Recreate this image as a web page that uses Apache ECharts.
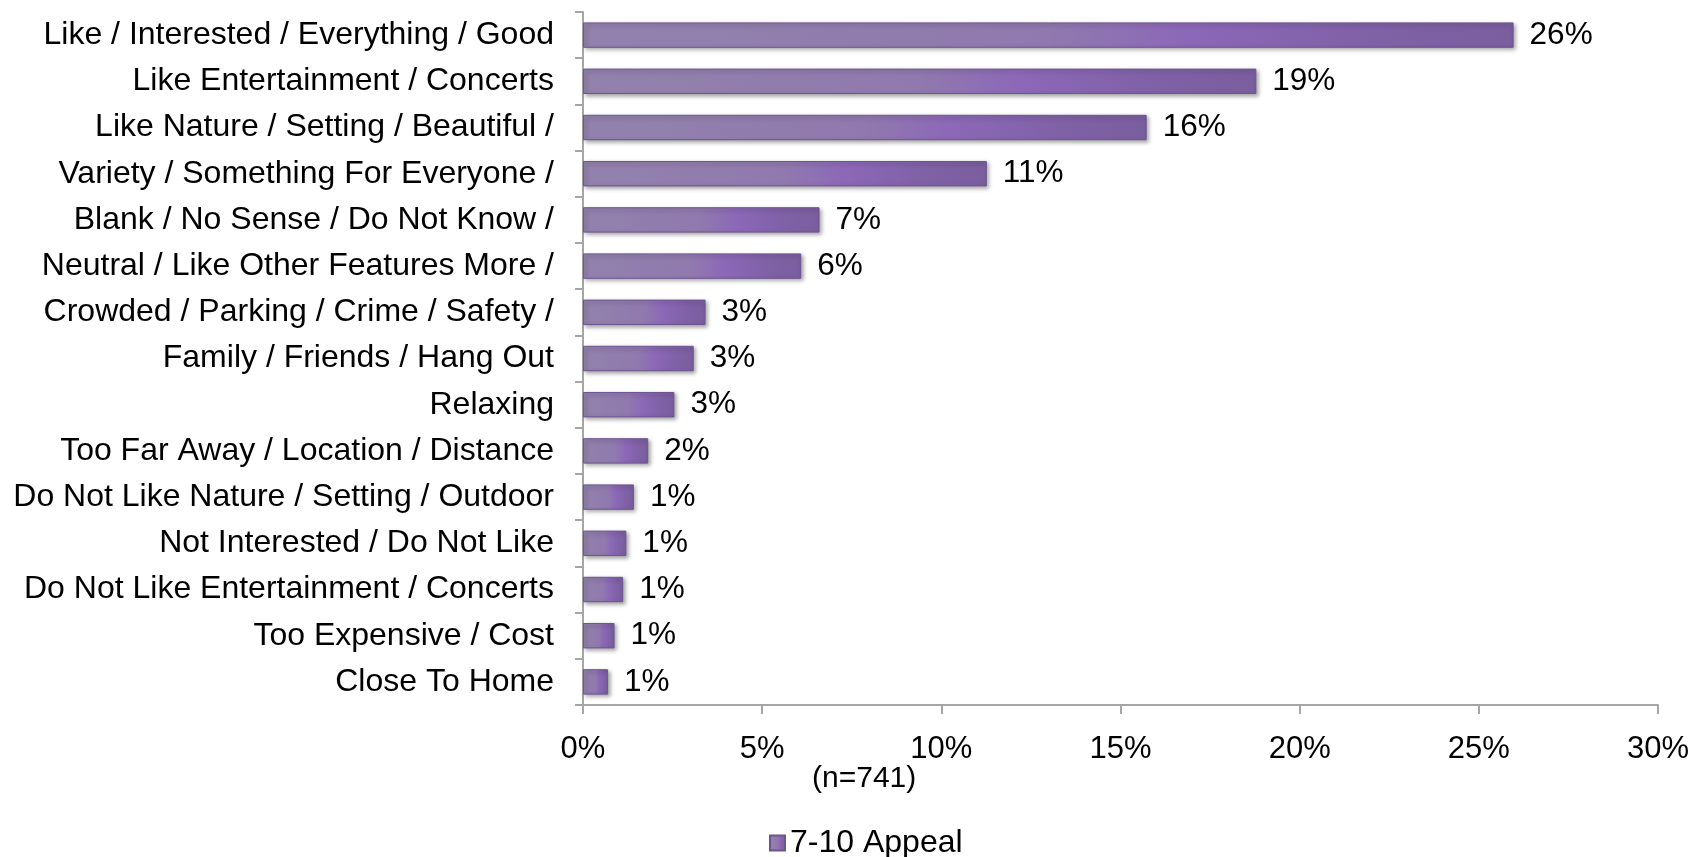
<!DOCTYPE html>
<html>
<head>
<meta charset="utf-8">
<script src="https://cdn.jsdelivr.net/npm/echarts@6/dist/echarts.min.js"></script>
<style>
html,body{margin:0;padding:0;background:#fff;}
#chart{width:1702px;height:857px;}
</style>
</head>
<body>
<div id="chart"></div>
<script>
const categories = [
  'Like / Interested / Everything / Good',
  'Like Entertainment / Concerts',
  'Like Nature / Setting / Beautiful /',
  'Variety / Something For Everyone /',
  'Blank / No Sense / Do Not Know /',
  'Neutral / Like Other Features More /',
  'Crowded / Parking / Crime / Safety /',
  'Family / Friends / Hang Out',
  'Relaxing',
  'Too Far Away / Location / Distance',
  'Do Not Like Nature / Setting / Outdoor',
  'Not Interested / Do Not Like',
  'Do Not Like Entertainment / Concerts',
  'Too Expensive / Cost',
  'Close To Home'
];
const appeal = [25.97, 18.79, 15.73, 11.27, 6.6, 6.09, 3.42, 3.09, 2.55, 1.82, 1.42, 1.21, 1.12, 0.88, 0.70];
const seriesName = '7-10 Appeal';
const xTicks = [0, 5, 10, 15, 20, 25, 30];
const note = '(n=741)';

const font = '"Liberation Sans", Arial, sans-serif';
const barGrad = new echarts.graphic.LinearGradient(0, 0, 1, 0, [
  {offset: 0, color: '#9282ac'},
  {offset: 0.5, color: '#9079ae'},
  {offset: 0.65, color: '#8c68b8'},
  {offset: 0.85, color: '#7f61a6'},
  {offset: 1, color: '#7a5e9e'}
]);

const chart = echarts.init(document.getElementById('chart'));
chart.setOption({
  animation: false,
  backgroundColor: '#ffffff',
  grid: {left: 583, right: 44, top: 12, bottom: 152, containLabel: false},
  xAxis: {
    type: 'value',
    min: xTicks[0],
    max: xTicks[xTicks.length - 1],
    interval: 5,
    splitLine: {show: false},
    axisLine: {show: true, lineStyle: {color: '#a6a6a6', width: 2}},
    axisTick: {show: true, length: 9, lineStyle: {color: '#a6a6a6', width: 2}},
    axisLabel: {
      margin: 29,
      color: '#000',
      fontFamily: font,
      fontSize: 31,
      formatter: v => v + '%'
    }
  },
  yAxis: {
    type: 'category',
    inverse: true,
    data: categories,
    axisLine: {show: true, lineStyle: {color: '#a6a6a6', width: 2}},
    axisTick: {show: true, length: 8, lineStyle: {color: '#a6a6a6', width: 2}},
    axisLabel: {
      margin: 29,
      color: '#000',
      fontFamily: font,
      fontSize: 32
    }
  },
  legend: {
    show: true,
    left: 764,
    top: 822,
    itemWidth: 15,
    itemHeight: 15,
    icon: 'rect',
    textStyle: {color: '#000', fontFamily: font, fontSize: 32},
    data: [seriesName]
  },
  series: [{
    name: seriesName,
    type: 'bar',
    data: appeal,
    barCategoryGap: '45%',
    itemStyle: {
      color: barGrad,
      borderColor: '#6d5590',
      borderWidth: 1,
      shadowColor: 'rgba(0,0,0,0.35)',
      shadowBlur: 4,
      shadowOffsetX: 2,
      shadowOffsetY: 2
    },
    label: {
      show: true,
      position: 'right',
      distance: 16,
      color: '#000',
      fontFamily: font,
      fontSize: 31.5,
      formatter: p => Math.round(p.value) + '%'
    }
  }],
  graphic: [{
    type: 'text',
    left: 864 - 52,
    top: 764,
    style: {text: note, fill: '#000', font: '30px ' + font}
  }]
});
</script>
</body>
</html>
